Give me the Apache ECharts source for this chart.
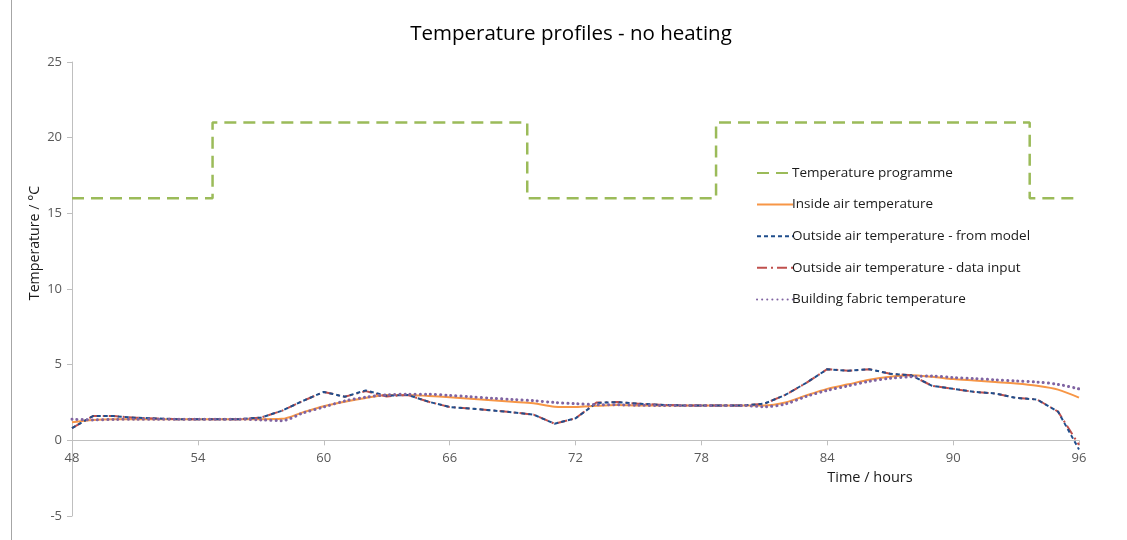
<!DOCTYPE html>
<html>
<head>
<meta charset="utf-8">
<script src="https://cdn.jsdelivr.net/npm/echarts@6/dist/echarts.min.js"></script>
<style>html,body{margin:0;padding:0;background:#fff}#c{width:1127px;height:540px}</style>
</head>
<body>
<div id="c"></div>
<script>
const hours = [48,49,50,51,52,53,54,55,56,57,58,59,60,61,62,63,64,65,66,67,68,69,70,71,72,73,74,75,76,77,78,79,80,81,82,83,84,85,86,87,88,89,90,91,92,93,94,95,96];
const progX = [48,54.7,54.7,69.7,69.7,78.7,78.7,93.65,93.65,96];
const progY = [16,16,21,21,16,16,21,21,16,16];
const insideAir = [1.2,1.35,1.4,1.4,1.4,1.4,1.4,1.4,1.4,1.4,1.42,1.85,2.25,2.55,2.8,3.0,3.0,2.93,2.85,2.75,2.65,2.55,2.45,2.22,2.2,2.28,2.33,2.3,2.3,2.3,2.3,2.3,2.3,2.3,2.5,2.97,3.4,3.7,4.0,4.2,4.3,4.2,4.05,3.95,3.85,3.75,3.6,3.35,2.82];
const outsideModel = [0.8,1.6,1.6,1.5,1.45,1.4,1.4,1.4,1.4,1.5,1.95,2.6,3.2,2.88,3.3,2.95,3.0,2.55,2.2,2.1,1.98,1.85,1.7,1.1,1.45,2.47,2.53,2.42,2.35,2.31,2.31,2.31,2.31,2.42,3.0,3.8,4.7,4.6,4.7,4.4,4.3,3.6,3.4,3.2,3.1,2.8,2.7,1.9,-0.6];
const outsideData = [0.8,1.6,1.6,1.5,1.45,1.4,1.4,1.4,1.4,1.5,1.95,2.6,3.2,2.88,3.25,2.9,3.0,2.55,2.2,2.1,1.98,1.85,1.7,1.1,1.45,2.5,2.53,2.42,2.35,2.31,2.31,2.31,2.31,2.42,3.0,3.8,4.7,4.6,4.7,4.4,4.3,3.6,3.4,3.2,3.1,2.8,2.7,1.9,-0.3];
const fabric = [1.4,1.35,1.38,1.4,1.4,1.4,1.4,1.4,1.4,1.35,1.3,1.8,2.2,2.6,2.85,3.0,3.05,3.05,2.97,2.88,2.78,2.7,2.62,2.5,2.42,2.36,2.35,2.32,2.3,2.3,2.3,2.3,2.3,2.22,2.4,2.9,3.3,3.6,3.9,4.1,4.2,4.25,4.15,4.08,4.0,3.92,3.85,3.7,3.4];
const xTicks = [48,54,60,66,72,78,84,90,96];
const yTicks = [-5,0,5,10,15,20,25];

const pair = (xs, ys) => xs.map((x, i) => [x, ys[i]]);
const FONT = 'Open Sans';
const GRID_TOP = 62, GRID_BOTTOM = 24, H = 540;
const plotH = H - GRID_TOP - GRID_BOTTOM;
const zeroOffset = plotH * (0 - (-5)) / (25 - (-5)); // distance from bottom to y=0

const chart = echarts.init(document.getElementById('c'));
chart.setOption({
  animation: false,
  backgroundColor: '#fff',
  textStyle: {fontFamily: FONT},
  title: {
    text: 'Temperature profiles - no heating',
    left: 566, top: 19, textAlign: 'center',
    textStyle: {fontFamily: FONT, fontSize: 20.5, fontWeight: 'normal', color: '#000'}
  },
  grid: {left: 72, right: 48, top: GRID_TOP, bottom: GRID_BOTTOM, containLabel: false},
  legend: {
    orient: 'vertical', left: 751, top: 161,
    itemWidth: 36, itemHeight: 14, itemGap: 17.6,
    itemStyle: {opacity: 0},
    textStyle: {fontFamily: FONT, fontSize: 13.5, color: '#1a1a1a', padding: [0,0,0,-6]},
    data: ['Temperature programme','Inside air temperature','Outside air temperature - from model','Outside air temperature - data input','Building fabric temperature']
  },
  xAxis: {
    type: 'value', min: 48, max: 96, interval: 6,
    position: 'bottom', offset: -zeroOffset,
    axisLine: {onZero: false, lineStyle: {color: '#BFBFBF', width: 1}},
    axisTick: {show: true, inside: false, length: 5, lineStyle: {color: '#BFBFBF'}},
    axisLabel: {color: '#595959', fontSize: 13, margin: 11,
      formatter: v => xTicks.includes(v) ? String(v) : ''},
    splitLine: {show: false}
  },
  yAxis: {
    type: 'value', min: -5, max: 25, interval: 5,
    axisLine: {show: true, lineStyle: {color: '#BFBFBF', width: 1}},
    axisTick: {show: true, length: 5, lineStyle: {color: '#BFBFBF'}},
    axisLabel: {color: '#595959', fontSize: 13, margin: 10,
      formatter: v => yTicks.includes(v) ? String(v) : ''},
    splitLine: {show: false}
  },
  graphic: [
    {type: 'line', shape: {x1: 11.5, y1: 0, x2: 11.5, y2: 540}, style: {stroke: '#A6A6A6', lineWidth: 1}},
    {type: 'text', x: 870, y: 478,
      style: {text: 'Time / hours', font: '14.5px "Open Sans"', fill: '#1a1a1a', textAlign: 'center', textVerticalAlign: 'middle'}},
    {type: 'text', x: 35, y: 243, rotation: Math.PI / 2,
      style: {text: 'Temperature / °C', font: '14.2px "Open Sans"', fill: '#1a1a1a', textAlign: 'center', textVerticalAlign: 'middle'}}
  ],
  series: [
    {name: 'Temperature programme', type: 'line', data: pair(progX, progY), symbol: 'none', z: 2,
      lineStyle: {color: '#9BBB59', width: 2.5, type: [12, 7]}, itemStyle: {color: '#9BBB59'}},
    {name: 'Inside air temperature', type: 'line', data: pair(hours, insideAir), symbol: 'none', smooth: 0.3, z: 3,
      lineStyle: {color: '#F79646', width: 2}, itemStyle: {color: '#F79646'}},
    {name: 'Outside air temperature - from model', type: 'line', data: pair(hours, outsideModel), symbol: 'none', z: 5,
      lineStyle: {color: '#1F4E8C', width: 2, type: [4, 3]}, itemStyle: {color: '#1F4E8C'}},
    {name: 'Outside air temperature - data input', type: 'line', data: pair(hours, outsideData), symbol: 'none', z: 4,
      lineStyle: {color: '#C0504D', width: 2, type: [10, 4, 2, 4]}, itemStyle: {color: '#C0504D'}},
    {name: 'Building fabric temperature', type: 'line', data: pair(hours, fabric), symbol: 'none', smooth: 0.3, z: 6,
      lineStyle: {color: '#8064A2', width: 3, type: [0.1, 5], cap: 'round'}, itemStyle: {color: '#8064A2'}}
  ]
});
</script>
</body>
</html>
